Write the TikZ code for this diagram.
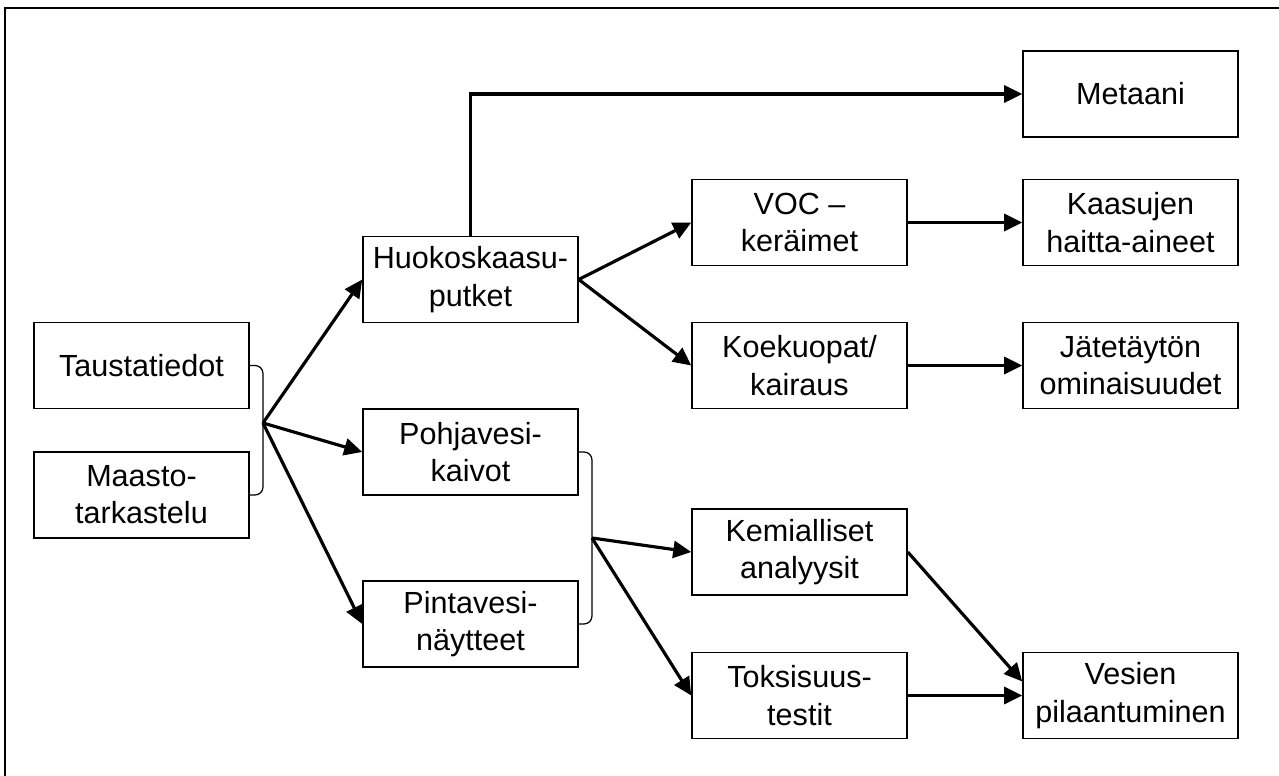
\documentclass[tikz,border=0pt]{standalone}
\usepackage{fontspec}
\setmainfont{Liberation Sans}
\usetikzlibrary{arrows.meta}
\usetikzlibrary{positioning}
\usetikzlibrary{calc}

\begin{document}
\begin{tikzpicture}[x=0.02cm,y=-0.02cm,
    box/.style={draw,line width=0.9pt,minimum width=4.3cm,minimum height=1.72cm,inner sep=0pt,align=center,font=\fontsize{17.4}{21.2}\selectfont},
    flow/.style={line width=1.8pt,-{Triangle[length=0.36cm,width=0.34cm]}},
    brace/.style={line width=0.7pt,rounded corners=0.16cm}]

  \useasboundingbox (0,0) rectangle (1279,776);

	%frame
  \draw[line width=1.2pt] (5,8) rectangle (1300,800);

	%boxes
    \foreach \name/\x/\y/\txt in {taus/141.5/365.5/{Taustatiedot}, maasto/141.5/495/{Maasto-\\tarkastelu},
                                 huok/470.5/279.5/{Huokoskaasu-\\putket}, pohja/470.5/452/{Pohjavesi-\\kaivot}, pinta/470.5/624/{Pintavesi-\\näytteet},
                                 voc/799.5/222.5/{VOC –\\keräimet}, koe/799.5/365.5/{Koekuopat/\\kairaus}, kem/799.5/552/{Kemialliset\\analyysit}, tox/799.5/695.5/{Toksisuus-\\testit},
                                 meta/1130.5/94/{Metaani}, kaas/1130.5/222.5/{Kaasujen\\haitta-aineet}, jate/1130.5/365.5/{Jätetäytön\\ominaisuudet}, ves/1130.5/695.5/{Vesien\\pilaantuminen}}{
         \node[box] (\name) at (\x,\y) {\txt};
    }

	%braces
  \coordinate (j1) at (263,423);
  \coordinate (j2) at (592,538);
  \draw[brace] (taus.east) -| (j1) |- (maasto.east);
  \draw[brace] (pohja.east) -| (j2) |- (pinta.east);

	%arrows
    \foreach \a/\b in {j1/huok, j1/pohja, j1/pinta, j2/kem, j2/tox}{
         \draw[flow] (\a) -- (\b.west);
    }
  \draw[flow] (huok.east) -- (voc.west);
  \draw[flow] (huok.east) -- (koe.west);
  \draw[flow] (huok.north) |- (meta.west);
  \draw[flow] (voc.east) -- (kaas.west);
  \draw[flow] (koe.east) -- (jate.west);
  \draw[flow] (tox.east) -- (ves.west);
  \draw[flow] (kem.east) -- ([yshift=0.28cm]ves.west);

\end{tikzpicture}
\end{document}
